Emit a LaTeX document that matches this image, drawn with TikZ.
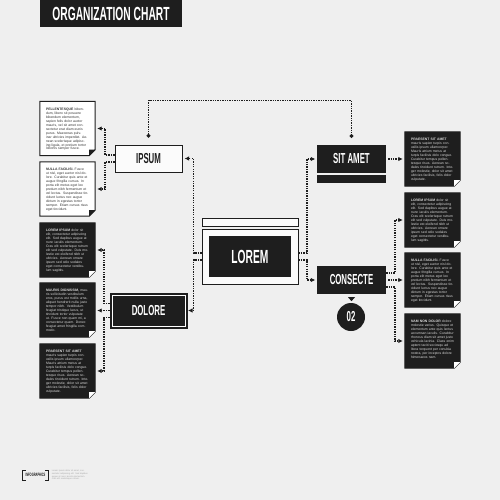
\documentclass[tikz,border=0pt]{standalone}
\usepackage{fontspec}
\setmainfont{Liberation Sans}
\newfontfamily\headfont[FakeStretch=0.54]{Liberation Sans}
\usetikzlibrary{calc,arrows.meta}
\definecolor{bg}{HTML}{EFEFEF}
\definecolor{dark}{HTML}{1E1E1E}
\definecolor{paper}{HTML}{FBFBFB}
\definecolor{ink}{HTML}{333333}

\newcommand\txtPell{\textbf{PELLENTESQUE} bibendum, libero sit posuere bibendum elementum, sapien felis dolor auctor mauris, vel sit amet consectetur erat diam eunis purus. Maecenas pulvinar ultricies imperdiet. Aenean scelerisque adipiscing ligula, et pretium tortor lobortis semper fusce.}
\newcommand\txtNulla{\textbf{NULLA FACILISI.} Fusce ut nisl, eget auctor nisl dolore. Curabitur quis ante et augue fringilla cursus. In porta elit metus eget leo pretium nibh fermentum et vel lectus. Suspendisse tincidunt luctus nec augue dictum in egestas tortor semper. Etiam cursus risus eget tincidunt.}
\newcommand\txtLorem{\textbf{LOREM IPSUM} dolor sit elit, consectetur adipiscing elit. Sed dapibus augue at nunc iaculis elementum. Cras elit scelerisque rutrum elit sed vulputate. Duis molestie est eleifend nibh ut ultricies. Aenean ornare ipsum sed odio sodales eget consectetur vestibulum sagittis.}
\newcommand\txtMauris{\textbf{MAURIS DIGNISSIM,} mauris sollicitudin vestibulum eros, purus est mollis urna, aliquet hendrerit nulla justo tempor nibh. Vestibulum feugiat tristique lacus, ut tincidunt tortor vulputate ut. Fusce non quam mi, a consectetur quam. Donec feugiat amet fringilla commodo.}
\newcommand\txtPraes{\textbf{PRAESENT SIT AMET} mauris sapien turpis convallis ipsum ullamcorper. Mauris atrium metus at turpis facilisis dolo congue. Curabitur tempus pellentesque risus. Aenean sodales tincidunt rutrum. Integer molestie, dolor sit amet ultricies facilisis, felis dolor vulputate.}
\newcommand\txtNam{\textbf{NAM NON DOLOR} dolore molestie varius. Quisque et elementum ante quis lectus accumsan iaculis. Curabitur rhoncus diam sit amet justo vehicula lacinia. Class enim aptent taciti sociosqu ad litora torquent per conubia nostra, per inceptos dolore himenaeos nam.}

% name, x, y, fill, fold colour, text colour, text
\newcommand\notebox[7]{%
  \node[minimum width=55pt, minimum height=54pt, inner sep=0pt] (#1) at (#2,#3) {};
  \path[fill=#4, draw=dark, line width=1pt] (#1.north west) -- (#1.north east)
     -- ($(#1.south east)+(0,-6)$) -- ($(#1.south east)+(-6,0)$) -- (#1.south west) -- cycle;
  \fill[#5] ($(#1.south east)+(0,-6)$) -- ($(#1.south east)+(-6,-6)$) -- ($(#1.south east)+(-6,0)$) -- cycle;
  \node[anchor=north west, text width=43pt, inner sep=0pt, align=left, text=#6,
        font=\fontsize{3.4}{3.95}\selectfont] (#1t) at ($(#1.north west)+(6,6.5)$) {#7};
}

\begin{document}
\begin{tikzpicture}[x=1pt,y=-1pt,
  conn/.style={line width=1.5pt, dash pattern=on 1.3pt off 1.1pt, draw=dark},
  arr/.style={conn,-{Latex[length=4.5pt,width=4.5pt]}},
  ends/.style={conn,{Circle[length=3.5pt]}-{Circle[length=3.5pt]}},
  hd/.style={font=\headfont\bfseries\fontsize{14.5}{14.5}\selectfont},
  hdbig/.style={font=\headfont\bfseries\fontsize{19}{19}\selectfont},
  lightbox/.style={hd, draw=dark, line width=1pt, fill=paper, text=dark, inner sep=0pt},
  darkbox/.style={hd, fill=dark, text=white, inner sep=0pt}]
\fill[bg] (0,0) rectangle (500,500);
\useasboundingbox (0,0) rectangle (500,500);

% title
\node[hdbig, fill=dark, text=white, minimum width=142pt, minimum height=27pt, inner sep=0pt] (title) at (111,13.5) {ORGANIZATION CHART};

% main boxes
\node[lightbox, minimum width=67pt, minimum height=27pt] (ipsum) at (148.5,158.5) {IPSUM};
\node[darkbox, minimum width=69pt, minimum height=28pt] (sitamet) at (351.5,159) {SIT AMET};
\node[fill=dark, minimum width=69pt, minimum height=8pt, inner sep=0pt, anchor=north] (sitbar) at ($(sitamet.south)+(0,2)$) {};
\node[darkbox, minimum width=69pt, minimum height=28pt] (consecte) at (351.5,280) {CONSECTE};
\fill[dark] ($(consecte.south)+(-3.5,3)$) -- ($(consecte.south)+(3.5,3)$) -- ($(consecte.south)+(0,7)$) -- cycle;
\node[darkbox, circle, minimum size=28pt] (n02) at (351,317) {02};

\node[darkbox, draw=dark, line width=1pt, minimum width=77pt, minimum height=35pt] (dolore) at (148.5,310.5) {DOLORE};
\draw[white, line width=0.9pt] ($(dolore.north west)+(2.5,2.5)$) rectangle ($(dolore.south east)+(-2.5,-2.5)$);

\node[draw=dark, line width=1pt, fill=paper, minimum width=96pt, minimum height=55pt, inner sep=0pt] (lorem) at (250,256.5) {};
\node[draw=dark, line width=1pt, fill=paper, minimum width=96pt, minimum height=8pt, inner sep=0pt, anchor=south] (lbar) at ($(lorem.north)+(0,-2)$) {};
\node[hdbig, fill=dark, text=white, minimum width=82pt, minimum height=41pt, inner sep=0pt] (loremin) at (lorem.center) {LOREM};

% note boxes
\notebox{b1}{67.5}{128.5}{white}{dark}{ink}{\txtPell}
\notebox{b2}{67.5}{189}{white}{dark}{ink}{\txtNulla}
\notebox{b3}{67.5}{250}{dark}{white}{white!85!black}{\txtLorem}
\notebox{b4}{67.5}{310}{dark}{white}{white!85!black}{\txtMauris}
\notebox{b5}{67.5}{371}{dark}{white}{white!85!black}{\txtPraes}
\notebox{r1}{432.5}{159}{dark}{white}{white!85!black}{\txtPraes}
\notebox{r2}{432.5}{220}{dark}{white}{white!85!black}{\txtLorem}
\notebox{r3}{432.5}{280}{dark}{white}{white!85!black}{\txtNulla}
\notebox{r4}{432.5}{341}{dark}{white}{white!85!black}{\txtNam}

% connectors
\draw[ends] ($(ipsum.north)+(0,-7)$) -- ($(ipsum.north)+(0,-44)$) -| ($(sitamet.north)+(0,-7)$);

\draw[arr] ($(ipsum.west)+(0,-3.5)$) -| ($(b1.east)+(10,0)$) -- ($(b1.east)+(2,0)$);
\draw[arr] ($(ipsum.west)+(0,3.5)$) -| ($(b2.east)+(10,0)$) -- ($(b2.east)+(2,0)$);

\draw[arr] ($(lorem.west)+(0,-3.5)$) -| ($(ipsum.east)+(11,0)$) -- ($(ipsum.east)+(2,0)$);
\draw[arr] ($(lorem.west)+(0,3.5)$) -| ($(dolore.east)+(6,0)$) -- ($(dolore.east)+(0.5,0)$);

\path ($(b4.east)+(2,0)$) coordinate (b4a);
\draw[arr] ($(dolore.west)+(0,-7)$) -| ($(b3.east)+(9,0)$) -- ($(b3.east)+(2,0)$);
\draw[arr] (dolore.west) -- (b4a |- dolore.west);
\draw[arr] ($(dolore.west)+(0,7)$) -| ($(b5.east)+(9,0)$) -- ($(b5.east)+(2,0)$);

\draw[arr] ($(lorem.east)+(0,-3.5)$) -| ($(sitamet.west)+(-10,0)$) -- ($(sitamet.west)+(-1.5,0)$);
\draw[arr] ($(lorem.east)+(0,3.5)$) -| ($(consecte.west)+(-10,0)$) -- ($(consecte.west)+(-1.5,0)$);

\path ($(r1.west)+(-2,0)$) coordinate (r1a);
\draw[arr] ($(sitamet.east)+(2,0)$) -- (r1a |- sitamet.east);

\path ($(r3.west)+(-2,0)$) coordinate (r3a);
\draw[arr] ($(consecte.east)+(0,-7)$) -| ($(r2.west)+(-10,0)$) -- ($(r2.west)+(-2,0)$);
\draw[arr] ($(consecte.east)+(2,0)$) -- (r3a |- consecte.east);
\draw[arr] ($(consecte.east)+(0,7)$) -| ($(r4.west)+(-10,0)$) -- ($(r4.west)+(-2,0)$);

% footer
\node[font=\headfont\bfseries\fontsize{4.8}{4.8}\selectfont, text=dark, inner sep=0pt] (info) at (35.5,475) {INFOGRAPHICS};
\draw[dark, line width=1pt] ($(info.west)+(0.5,-5)$) -- ($(info.west)+(-2.5,-5)$) -- ($(info.west)+(-2.5,5)$) -- ($(info.west)+(0.5,5)$);
\draw[dark, line width=1pt] ($(info.east)+(-0.5,-5)$) -- ($(info.east)+(2.5,-5)$) -- ($(info.east)+(2.5,5)$) -- ($(info.east)+(-0.5,5)$);
\node[anchor=west, text width=36pt, inner sep=0pt, align=left, text=gray!70, font=\fontsize{2.2}{2.9}\selectfont] (infotxt) at ($(info.east)+(6,0)$) {Lorem ipsum dolor sit amet, consectetur adipiscing elit. Sed dapibus augue at nunc iaculis elementum. Cras elit scelerisque rutrum.};
\end{tikzpicture}
\end{document}
